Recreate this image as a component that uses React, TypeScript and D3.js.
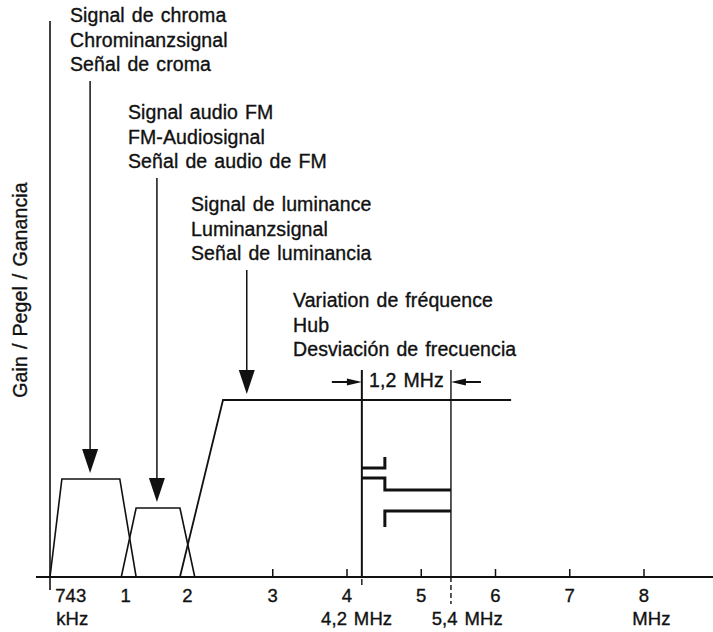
import React, { useEffect, useRef } from 'react'
import * as d3 from 'd3'

// frequency axis (MHz)
const tickValues = [3, 4, 5, 6, 7, 8]
const tickLabels = ['743', '1', '2', '3', '4', '5', '6', '7', '8']
const tickLabelAt = [0.28, 1.02, 1.85, 3, 4, 5, 6, 7, 8]
const unitLabels = ['kHz', '4,2 MHz', '5,4 MHz', 'MHz']
const unitLabelAt = [0.3, 4.13, 5.62, 8.1]

// band outlines as [MHz, relative gain]
const chromaBand = [[0, 0], [0.16, 0.554], [0.94, 0.554], [1.16, 0]]
const audioBand = [[0.96, 0], [1.16, 0.39], [1.75, 0.39], [1.95, 0]]
const lumaBand = [[1.75, 0], [2.33, 1], [6.21, 1]]

// FM deviation of the luminance carrier
const deviation = [4.2, 5.4]
const deviationLabel = '1,2 MHz'
const syncStep = [[4.2, 0.616], [4.51, 0.616], [4.51, 0.678]]
const blankStep = [[4.2, 0.559], [4.51, 0.559], [4.51, 0.492], [5.4, 0.492]]
const whiteStep = [[5.4, 0.373], [4.51, 0.373], [4.51, 0.282]]

// annotations
const chromaNames = ['Signal de chroma', 'Chrominanzsignal', 'Señal de croma']
const audioNames = ['Signal audio FM', 'FM-Audiosignal', 'Señal de audio de FM']
const lumaNames = ['Signal de luminance', 'Luminanzsignal', 'Señal de luminancia']
const deviationNames = ['Variation de fréquence', 'Hub', 'Desviación de frecuencia']
const arrowAt = [0.54, 1.44, 2.65]
const arrowLevel = [0.554, 0.39, 1]
const yTitle = 'Gain / Pegel / Ganancia'

const FONT = '"Liberation Sans", Arial, Helvetica, sans-serif'
const INK = '#111'

export default function App() {
    const ref = useRef<SVGSVGElement>(null)

    useEffect(() => {
        const width = 713
        const height = 632
        const svg = d3.select(ref.current)
        svg.selectAll('*').remove()
        svg.attr('width', width).attr('height', height)

        svg.append('rect').attr('width', width).attr('height', height).attr('fill', '#fff')

        const x = d3.scaleLinear().domain([0, 8]).range([50, 644])
        const y = d3.scaleLinear().domain([0, 1]).range([577, 400])
        const line = d3.line<number[]>().x(d => x(d[0])).y(d => y(d[1]))

        // scanned print looks heavier than plain regular weight, so add a thin outline
        const text = (tx: number, ty: number, s: string, size = 19.5, anchor = 'start') =>
            svg.append('text')
                .attr('x', tx).attr('y', ty)
                .attr('text-anchor', anchor)
                .style('font-family', FONT)
                .style('font-size', size + 'px')
                .style('letter-spacing', '0.1px')
                .style('word-spacing', '1.5px')
                .attr('fill', INK)
                .attr('stroke', INK)
                .attr('stroke-width', 0.35)
                .text(s)

        // axes
        svg.append('line')
            .attr('x1', 36).attr('x2', width)
            .attr('y1', y(0)).attr('y2', y(0))
            .attr('stroke', INK).attr('stroke-width', 2)
        svg.append('line')
            .attr('x1', x(0)).attr('x2', x(0))
            .attr('y1', 21).attr('y2', y(0) + 13)
            .attr('stroke', INK).attr('stroke-width', 1.6)
        svg.selectAll('.tick')
            .data(tickValues)
            .enter()
            .append('line')
            .attr('x1', d => x(d)).attr('x2', d => x(d))
            .attr('y1', y(0)).attr('y2', y(0) - 8)
            .attr('stroke', INK).attr('stroke-width', 1.5)

        tickLabels.forEach((t, i) => text(x(tickLabelAt[i]), 602, t, 18.5, 'middle'))
        unitLabels.forEach((t, i) => text(x(unitLabelAt[i]), 625, t, 18.5, 'middle'))

        text(0, 0, yTitle, 19.5, 'middle')
            .attr('x', null).attr('y', null)
            .attr('transform', 'translate(27,290) rotate(-90)')

        // bands
        ;[chromaBand, audioBand].forEach(b => {
            svg.append('path')
                .attr('d', line(b))
                .attr('fill', 'none')
                .attr('stroke', INK)
                .attr('stroke-width', 1.6)
        })
        svg.append('path')
            .attr('d', line(lumaBand))
            .attr('fill', 'none')
            .attr('stroke', INK)
            .attr('stroke-width', 1.8)

        // deviation window
        svg.append('line')
            .attr('x1', x(deviation[0])).attr('x2', x(deviation[0]))
            .attr('y1', 370).attr('y2', y(0))
            .attr('stroke', INK).attr('stroke-width', 2)
        svg.append('line')
            .attr('x1', x(deviation[1])).attr('x2', x(deviation[1]))
            .attr('y1', 370).attr('y2', y(0))
            .attr('stroke', INK).attr('stroke-width', 1.4)
        svg.append('line')
            .attr('x1', x(deviation[1])).attr('x2', x(deviation[1]))
            .attr('y1', y(0)).attr('y2', y(0) + 27)
            .attr('stroke', INK).attr('stroke-width', 1.4)
            .attr('stroke-dasharray', '5,3')
        svg.append('line')
            .attr('x1', x(deviation[0])).attr('x2', x(deviation[0]))
            .attr('y1', y(0) + 2).attr('y2', y(0) + 8)
            .attr('stroke', INK).attr('stroke-width', 1.4)

        ;[syncStep, blankStep, whiteStep].forEach(s => {
            svg.append('path')
                .attr('d', line(s))
                .attr('fill', 'none')
                .attr('stroke', INK)
                .attr('stroke-width', 3)
        })

        // 1,2 MHz dimension arrows
        const ay = 382
        const l = x(deviation[0])
        const r = x(deviation[1])
        svg.append('line').attr('x1', l - 30).attr('x2', l - 4).attr('y1', ay).attr('y2', ay)
            .attr('stroke', INK).attr('stroke-width', 2)
        svg.append('path').attr('d', `M${l - 15},${ay - 3.5}L${l},${ay}L${l - 15},${ay + 3.5}Z`).attr('fill', INK)
        svg.append('line').attr('x1', r + 4).attr('x2', r + 30).attr('y1', ay).attr('y2', ay)
            .attr('stroke', INK).attr('stroke-width', 2)
        svg.append('path').attr('d', `M${r + 15},${ay - 3.5}L${r},${ay}L${r + 15},${ay + 3.5}Z`).attr('fill', INK)
        text((l + r) / 2, 387, deviationLabel, 19.5, 'middle')

        // labels with pointer arrows
        const blocks = [
            { names: chromaNames, tx: 70, ty: 22 },
            { names: audioNames, tx: 128, ty: 119 },
            { names: lumaNames, tx: 191, ty: 211 },
            { names: deviationNames, tx: 293, ty: 307 },
        ]
        blocks.forEach((b, i) => {
            b.names.forEach((n, j) => text(b.tx, b.ty + j * 24.5, n))
            if (i < 3) {
                const cx = x(arrowAt[i])
                const tip = y(arrowLevel[i]) - 6
                const top = b.ty + 2 * 24.5 + 10
                svg.append('line')
                    .attr('x1', cx).attr('x2', cx)
                    .attr('y1', top).attr('y2', tip - 20)
                    .attr('stroke', INK).attr('stroke-width', 1.5)
                svg.append('path')
                    .attr('d', `M${cx - 8},${tip - 24}L${cx + 8},${tip - 24}L${cx},${tip}Z`)
                    .attr('fill', INK)
            }
        })
    }, [])

    return (
        <svg ref={ref} style={{ position: 'absolute', left: 0, top: 0, display: 'block' }} />
    )
}
